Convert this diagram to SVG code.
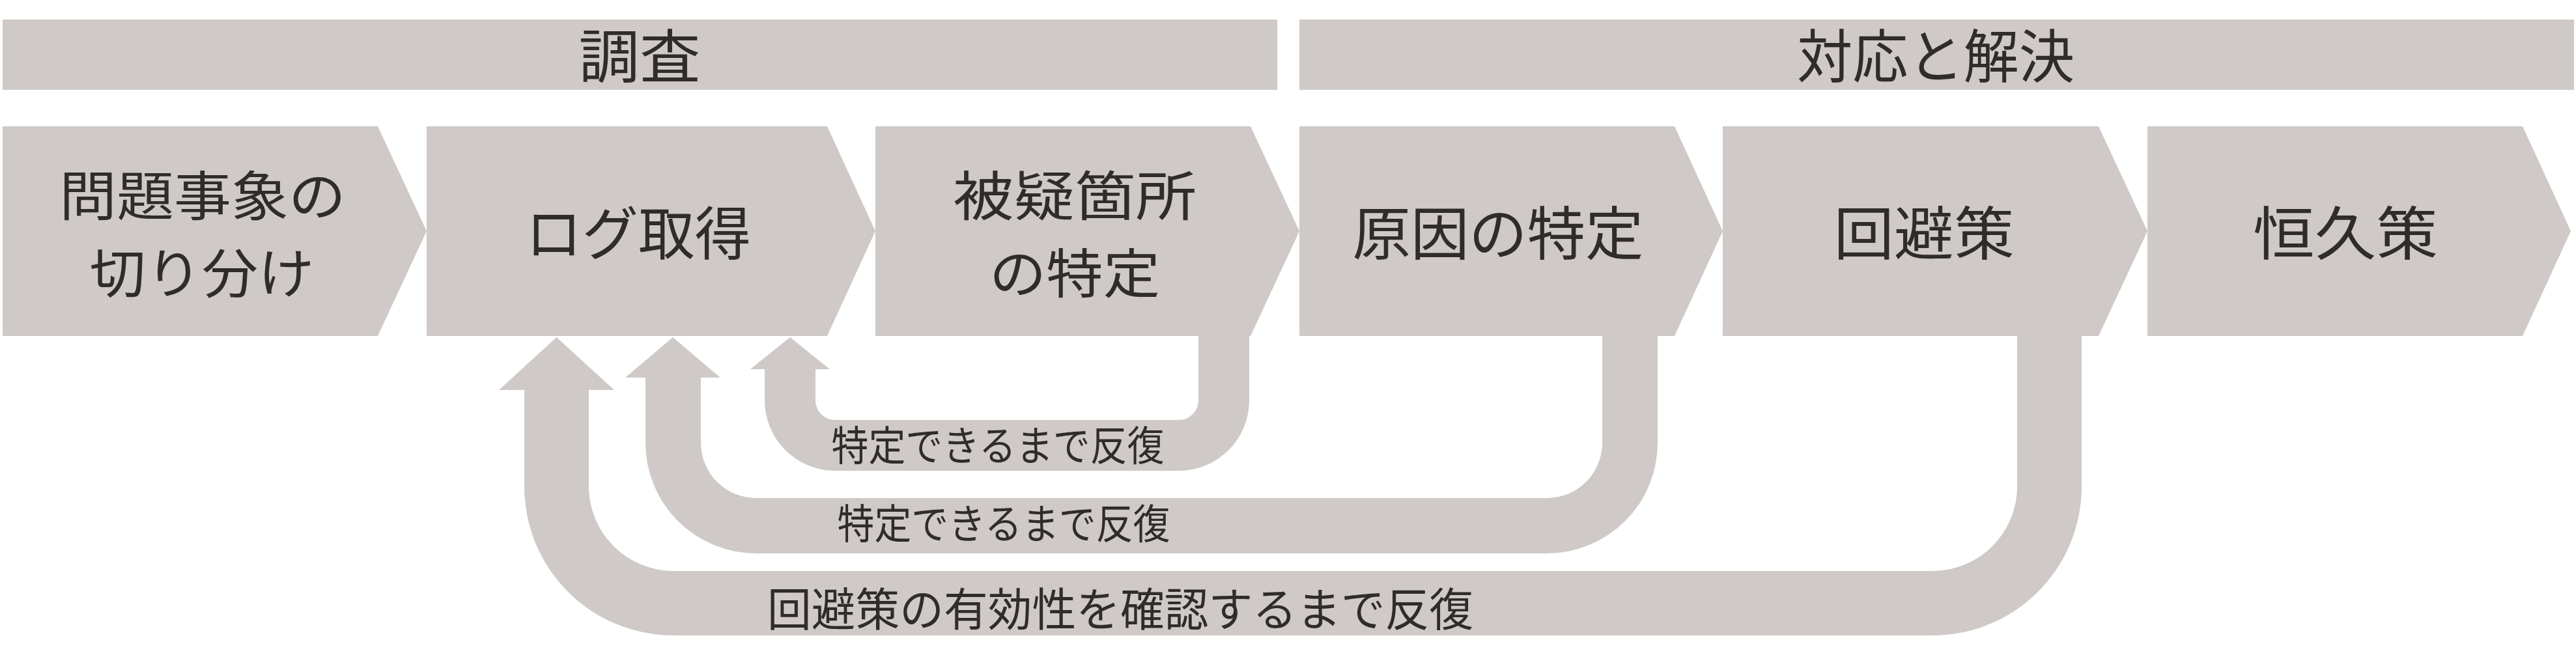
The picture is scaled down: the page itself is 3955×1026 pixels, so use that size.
<svg xmlns="http://www.w3.org/2000/svg" width="3955" height="1026" viewBox="0 0 3955 1026">
<style>
.shape{fill:#CFCAC7;}
.t{font-family:"Noto Sans CJK JP","Noto Sans CJK SC",sans-serif;fill:#302C29;text-anchor:middle;}
.big{font-size:89px;}
.two{font-size:82px;}
.lbl{font-size:63px;}
.lbl3{font-size:70px;}
</style>
<rect width="3955" height="1026" fill="#FFFFFF"/>
<g id="phase-investigation">
<rect class="shape" x="4" y="30" width="1957" height="108"/>
<text class="t big" x="982" y="119" textLength="187" lengthAdjust="spacingAndGlyphs">調査</text>
</g>
<g id="phase-resolution">
<rect class="shape" x="1995" y="30" width="1957" height="108"/>
<text class="t big" x="2972" y="119" textLength="426" lengthAdjust="spacingAndGlyphs">対応と解決</text>
</g>
<g id="connectors">
<path class="shape" d="M1840,516 L1918,516 L1918,615 A108,108 0 0 1 1810,723 L1282,723 A108,108 0 0 1 1174,615 L1174,567 L1152,567 L1213,518 L1274,567 L1252,567 L1252,615 A30,30 0 0 0 1282,645 L1810,645 A30,30 0 0 0 1840,615 Z"/>
<path class="shape" d="M2460,516 L2545,516 L2545,680 A170,170 0 0 1 2375,850 L1161,850 A170,170 0 0 1 991,680 L991,580 L960,580 L1033,518 L1106,580 L1076,580 L1076,680 A85,85 0 0 0 1161,765 L2375,765 A85,85 0 0 0 2460,680 Z"/>
<path class="shape" d="M3097,516 L3196,516 L3196,747 A229,229 0 0 1 2967,976 L1034,976 A229,229 0 0 1 805,747 L805,599 L766,599 L854.5,518 L943,599 L904,599 L904,747 A130,130 0 0 0 1034,877 L2967,877 A130,130 0 0 0 3097,747 Z"/>
<text class="t lbl" x="1532" y="707" textLength="511" lengthAdjust="spacingAndGlyphs">特定できるまで反復</text>
<text class="t lbl" x="1541" y="827" textLength="511" lengthAdjust="spacingAndGlyphs">特定できるまで反復</text>
<text class="t lbl3" x="1720" y="962" textLength="1084" lengthAdjust="spacingAndGlyphs">回避策の有効性を確認するまで反復</text>
</g>
<g id="node-1">
<polygon class="shape" points="4,194 580,194 655,355 580,516 4,516"/>
<text class="t two" x="311" y="331" textLength="440" lengthAdjust="spacingAndGlyphs">問題事象の</text>
<text class="t two" x="310" y="450" textLength="345" lengthAdjust="spacingAndGlyphs">切り分け</text>
</g>
<g id="node-2">
<polygon class="shape" points="655,194 1270,194 1344,355 1270,516 655,516"/>
<text class="t big" x="980" y="391" textLength="346" lengthAdjust="spacingAndGlyphs">ログ取得</text>
</g>
<g id="node-3">
<polygon class="shape" points="1344,194 1920,194 1995,355 1920,516 1344,516"/>
<text class="t two" x="1650" y="331" textLength="374" lengthAdjust="spacingAndGlyphs">被疑箇所</text>
<text class="t two" x="1650" y="450" textLength="262" lengthAdjust="spacingAndGlyphs">の特定</text>
</g>
<g id="node-4">
<polygon class="shape" points="1995,194 2571,194 2645,355 2571,516 1995,516"/>
<text class="t big" x="2300" y="391" textLength="447" lengthAdjust="spacingAndGlyphs">原因の特定</text>
</g>
<g id="node-5">
<polygon class="shape" points="2645,194 3222,194 3297,355 3222,516 2645,516"/>
<text class="t big" x="2954" y="391" textLength="277" lengthAdjust="spacingAndGlyphs">回避策</text>
</g>
<g id="node-6">
<polygon class="shape" points="3297,194 3873,194 3947,355 3873,516 3297,516"/>
<text class="t big" x="3601" y="391" textLength="284" lengthAdjust="spacingAndGlyphs">恒久策</text>
</g>
</svg>
